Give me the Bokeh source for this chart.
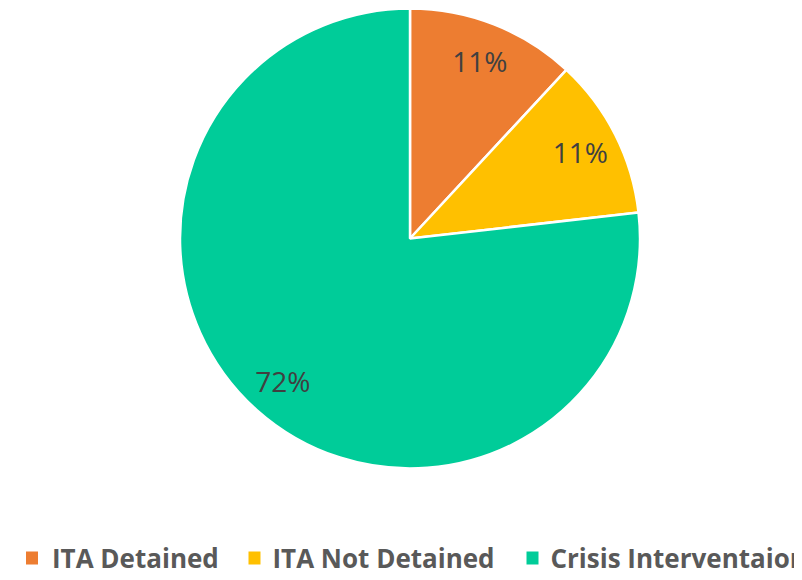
import math
from bokeh.plotting import figure
from bokeh.models import Range1d, ColumnDataSource
from bokeh.core.properties import value
from bokeh.embed import file_html
from bokeh.resources import INLINE

# ---- data ----
categories = ["ITA Detained", "ITA Not Detained", "Crisis Interventaion"]
slice_shares = [11.9, 11.3, 76.8]          # share of the circle as drawn
slice_labels = ["11%", "11%", "72%"]       # labels as printed on the chart
colors = ["#ED7D31", "#FFC000", "#00CC99"]

# ---- layout (figure pixel space, origin bottom-left) ----
W, H = 794, 572
cx, cy, R = 409.5, H - 238.0, 230.0
label_r = 0.83 * R

p = figure(width=W, height=H, output_backend="svg", toolbar_location=None,
           x_range=Range1d(0, W), y_range=Range1d(0, H),
           x_axis_type=None, y_axis_type=None, min_border=0)
p.grid.visible = False
p.outline_line_color = None
p.background_fill_color = "white"
p.border_fill_color = "white"

total = sum(slice_shares)
starts, ends, lx, ly = [], [], [], []
cur = math.pi / 2  # start at 12 o'clock, go clockwise
for s in slice_shares:
    span = 2 * math.pi * s / total
    end = cur
    start = cur - span
    starts.append(start)
    ends.append(end)
    mid = (start + end) / 2
    lx.append(cx + label_r * math.cos(mid))
    ly.append(cy + label_r * math.sin(mid))
    cur = start

src = ColumnDataSource(dict(x=[cx] * 3, y=[cy] * 3, start=starts, end=ends,
                            color=colors, lx=lx, ly=ly, label=slice_labels,
                            cat=categories))
p.wedge(x="x", y="y", radius=R, start_angle="start", end_angle="end",
        fill_color="color", line_color="white", line_width=2.5, source=src)
p.text(x="lx", y="ly", text="label", source=src, text_align="center",
       text_baseline="middle", text_font=value("Open Sans"),
       text_font_size="28px", text_color="#404040")

# ---- legend (manual) ----
mid_y = 15          # legend text middle, px above figure bottom
sq_x = [31.5, 254, 532]
tx_x = [51.5, 272, 550]
leg = ColumnDataSource(dict(sx=sq_x, sy=[mid_y - 0.5] * 3, tx=tx_x,
                            ty=[mid_y] * 3, cat=categories, color=colors))
p.rect(x="sx", y="sy", width=12, height=13, fill_color="color",
       line_color=None, source=leg)
p.text(x="tx", y="ty", text="cat", source=leg, text_align="left",
       text_baseline="middle", text_font=value("Open Sans"),
       text_font_style="bold", text_font_size="26px", text_color="#595959")

open("out.html", "w").write(file_html(p, INLINE))
